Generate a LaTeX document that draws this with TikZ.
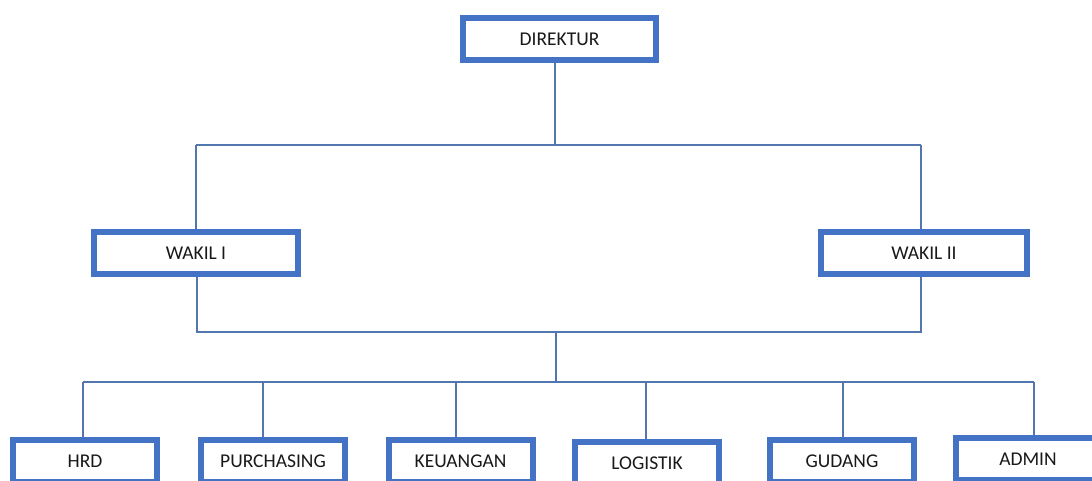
\documentclass[tikz,border=0pt]{standalone}
\usepackage{fontspec}
\setmainfont{Carlito}
\usetikzlibrary{positioning,calc}
\definecolor{boxblue}{HTML}{4472C4}
\definecolor{linkblue}{HTML}{5177AE}
\tikzset{
  unit/.style  = {rectangle, draw=boxblue, fill=white, line width=6pt, minimum height=42pt,
                  inner sep=2pt, align=center, font=\fontsize{19.5}{22}\selectfont, text=black!90},
  staff/.style = {unit, minimum width=144pt},
  link/.style  = {draw=linkblue, line width=1.5pt},
}

\begin{document}
\begin{tikzpicture}[x=1pt, y=-1pt]
  \useasboundingbox (0,0) rectangle (1092,481);
  \clip (0,0) rectangle (1092,481);
  % top and deputies
  \node[unit, minimum width=193pt] (dir) at (559.5,39) {DIREKTUR};
  \node[unit, minimum width=204pt] (wk1) at (196,253) {WAKIL I};
  \node[unit, minimum width=206pt] (wk2) at (924,253) {WAKIL II};
  % departments
  \node[staff] (hrd)   at (85,461)    {HRD};
  \node[staff] (purch) at (273,461)   {PURCHASING};
  \node[staff] (keu)   at (460.5,461) {KEUANGAN};
  \node[staff] (log)   at (647,463)   {LOGISTIK};
  \node[staff] (gud)   at (842,461)   {GUDANG};
  \node[staff] (adm)   at (1028,459)  {ADMIN};
  % junctions
  \coordinate (top) at (555,145);
  \coordinate (t1) at (196,145);  \coordinate (t2) at (921,145);
  \coordinate (m1) at (197,332);  \coordinate (m2) at (921,332);
  \coordinate (mid) at (556,332);
  \coordinate (b1) at (83,382);   \coordinate (b2) at (263,382);
  \coordinate (b3) at (456,382);  \coordinate (b4) at (646,382);
  \coordinate (b5) at (843,382);  \coordinate (b6) at (1034,382);
  \draw[link] (top |- dir.south) -- (top);
  \draw[link] (t1) -- (t2);
  \draw[link] (t1) -- (t1 |- wk1.north);
  \draw[link] (t2) -- (t2 |- wk2.north);
  \draw[link] (m1 |- wk1.south) -- (m1) -- (m2) -- (m2 |- wk2.south);
  \draw[link] (mid) -- (mid |- b1);
  \draw[link] (b1) -- (b6);
  \draw[link] (b1) -- (b1 |- hrd.north);
  \draw[link] (b2) -- (b2 |- purch.north);
  \draw[link] (b3) -- (b3 |- keu.north);
  \draw[link] (b4) -- (b4 |- log.north);
  \draw[link] (b5) -- (b5 |- gud.north);
  \draw[link] (b6) -- (b6 |- adm.north);
\end{tikzpicture}
\end{document}
